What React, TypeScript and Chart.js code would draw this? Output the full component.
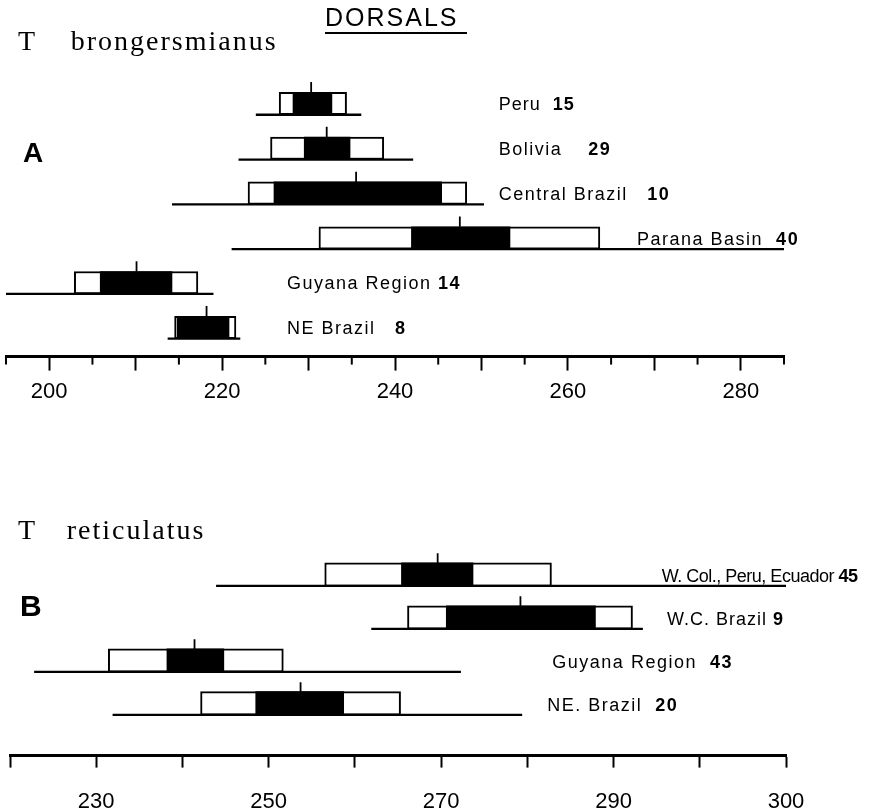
import { useEffect, useRef } from "react";
import { Chart, registerables } from "chart.js";

Chart.register(...registerables);

// ---------- Panel A: T. brongersmianus ----------
const regionsA = ["Peru", "Bolivia", "Central Brazil", "Parana Basin", "Guyana Region", "NE Brazil"];
const countsA = [15, 29, 10, 40, 14, 8];
const rangeMinA = [223.9, 221.9, 214.2, 221.1, 195.0, 213.7];
const rangeMaxA = [236.1, 242.1, 250.3, 287.2, 219.0, 222.1];
const sdLowA = [226.6, 225.6, 223.0, 231.2, 202.9, 214.5];
const sdHighA = [234.4, 238.7, 248.3, 263.7, 217.2, 221.6];
const seLowA = [228.2, 229.5, 226.0, 241.9, 205.9, 214.8];
const seHighA = [232.7, 234.8, 245.4, 253.3, 214.2, 220.8];
const meanA = [230.3, 232.1, 235.5, 247.5, 210.1, 218.2];
const majorTicksA = [200, 210, 220, 230, 240, 250, 260, 270, 280];
const minorTicksA = [195, 205, 215, 225, 235, 245, 255, 265, 275, 285];
const labeledTicksA = [200, 220, 240, 260, 280];
const tickTextA = ["200", "220", "240", "260", "280"];

// ---------- Panel B: T. reticulatus ----------
const regionsB = ["W. Col., Peru, Ecuador", "W.C. Brazil", "Guyana Region", "NE. Brazil"];
const countsB = [45, 9, 43, 20];
const rangeMinB = [243.9, 261.9, 222.8, 231.9];
const rangeMaxB = [310.8, 293.4, 272.3, 279.4];
const sdLowB = [256.5, 266.1, 231.4, 242.1];
const sdHighB = [282.8, 292.2, 251.7, 265.3];
const seLowB = [265.4, 270.6, 238.2, 248.5];
const seHighB = [273.7, 287.9, 244.8, 258.7];
const meanB = [269.6, 279.2, 241.4, 253.7];
const majorTicksB = [220, 230, 240, 250, 260, 270, 280, 290, 300, 310];
const labeledTicksB = [230, 250, 270, 290, 310];
const tickTextB = ["230", "250", "270", "290", "300"];

// label anchors (axis units) and spacing, layout only
const labelStartA = [252, 252, 252, 268, 227.5, 227.5];
const labelStartB = [295.6, 296.2, 282.9, 282.3];
const labelGapA = ["  ", "    ", "   ", "  ", " ", "   "];
const labelGapB = [" ", " ", "  ", "  "];

const SANS = "'Liberation Sans', Arial, sans-serif";

type PanelCfg = {
  regions: string[];
  counts: number[];
  rMin: number[];
  rMax: number[];
  sdLo: number[];
  sdHi: number[];
  seLo: number[];
  seHi: number[];
  mean: number[];
  xMin: number;
  xMax: number;
  yMin: number;
  yMax: number;
  majorTicks: number[];
  minorTicks: number[];
  labeled: number[];
  labeledText: string[];
  labelStart: number[];
  labelGap: string[];
  boxOff: number;
  barPx: number;
  tickLength: number;
  tickPadding: number;
  padding: { left: number; right: number; top: number; bottom: number };
  labelSpacing: string[];
};

function buildChart(canvas: HTMLCanvasElement, c: PanelCfg) {
  const n = c.regions.length;
  const datasets: any[] = [];
  // range lines
  for (let i = 0; i < n; i++) {
    datasets.push({
      type: "line",
      data: [
        { x: c.rMin[i], y: i },
        { x: c.rMax[i], y: i },
      ],
      borderColor: "#000",
      borderWidth: 2.3,
      pointRadius: 0,
      order: 2,
    });
  }
  // white boxes
  datasets.push({
    type: "bar",
    data: c.sdLo.map((lo, i) => ({ x: [lo, c.sdHi[i]], y: i - c.boxOff })),
    backgroundColor: "#fff",
    borderColor: "#000",
    borderWidth: 2,
    borderSkipped: false,
    barThickness: c.barPx,
    grouped: false,
    order: 5,
  });
  // black boxes
  datasets.push({
    type: "bar",
    data: c.seLo.map((lo, i) => ({ x: [lo, c.seHi[i]], y: i - c.boxOff })),
    backgroundColor: "#000",
    borderWidth: 0,
    borderSkipped: false,
    barThickness: c.barPx,
    grouped: false,
    order: 4,
  });
  // mean ticks
  for (let i = 0; i < n; i++) {
    const top = i - 2 * c.boxOff;
    datasets.push({
      type: "line",
      data: [
        { x: c.mean[i], y: top },
        { x: c.mean[i], y: top - 0.23 },
      ],
      borderColor: "#000",
      borderWidth: 1.8,
      pointRadius: 0,
      order: 1,
    });
  }

  const labelPlugin = {
    id: "rowLabels",
    afterDatasetsDraw(chart: any) {
      const { ctx } = chart;
      const xs = chart.scales.x;
      const ys = chart.scales.y;
      ctx.save();
      ctx.fillStyle = "#000";
      ctx.textBaseline = "middle";
      ctx.textAlign = "left";
      for (let i = 0; i < n; i++) {
        const px = xs.getPixelForValue(c.labelStart[i]);
        const py = ys.getPixelForValue(i - 0.21);
        ctx.letterSpacing = c.labelSpacing[i];
        ctx.font = `18px ${SANS}`;
        ctx.fillText(c.regions[i], px, py);
        const w = ctx.measureText(c.regions[i] + c.labelGap[i]).width;
        ctx.font = `bold 18px ${SANS}`;
        ctx.fillText(String(c.counts[i]), px + w, py);
      }
      ctx.restore();
    },
  };

  const minorPlugin = {
    id: "minorTicks",
    afterDraw(chart: any) {
      const { ctx, chartArea } = chart;
      const xs = chart.scales.x;
      ctx.save();
      ctx.strokeStyle = "#000";
      ctx.lineWidth = 2;
      for (const v of c.minorTicks) {
        const px = xs.getPixelForValue(v);
        ctx.beginPath();
        ctx.moveTo(px, chartArea.bottom);
        ctx.lineTo(px, chartArea.bottom + 8);
        ctx.stroke();
      }
      ctx.restore();
    },
  };

  return new Chart(canvas, {
    type: "bar",
    data: { datasets },
    plugins: [labelPlugin, minorPlugin],
    options: {
      animation: false,
      responsive: false,
      indexAxis: "y",
      layout: { padding: c.padding },
      plugins: { legend: { display: false }, tooltip: { enabled: false }, title: { display: false } },
      scales: {
        x: {
          type: "linear",
          position: "bottom",
          min: c.xMin,
          max: c.xMax,
          afterBuildTicks: (scale: any) => {
            scale.ticks = c.majorTicks.map((v) => ({ value: v }));
          },
          afterFit: (scale: any) => {
            scale.paddingLeft = 0;
            scale.paddingRight = 0;
          },
          grid: {
            drawOnChartArea: false,
            drawTicks: true,
            tickLength: c.tickLength,
            tickWidth: 2,
            tickColor: "#000",
          },
          border: { display: true, color: "#000", width: 3 },
          ticks: {
            autoSkip: false,
            maxRotation: 0,
            padding: c.tickPadding,
            color: "#000",
            font: { family: SANS, size: 22 },
            callback: (v: any) => {
              const k = c.labeled.indexOf(Number(v));
              return k >= 0 ? c.labeledText[k] : "";
            },
          },
        },
        y: {
          type: "linear",
          display: false,
          reverse: true,
          min: c.yMin,
          max: c.yMax,
          offset: false,
        },
      },
    } as any,
  });
}

function Panel(props: { cfg: PanelCfg; top: number; height: number }) {
  const ref = useRef<HTMLCanvasElement | null>(null);
  useEffect(() => {
    if (!ref.current) return;
    const chart = buildChart(ref.current, props.cfg);
    return () => chart.destroy();
  }, []);
  return (
    <canvas
      ref={ref}
      width={870}
      height={props.height}
      style={{ position: "absolute", left: 0, top: props.top, width: 870, height: props.height }}
    />
  );
}

const cfgA: PanelCfg = {
  regions: regionsA,
  counts: countsA,
  rMin: rangeMinA,
  rMax: rangeMaxA,
  sdLo: sdLowA,
  sdHi: sdHighA,
  seLo: seLowA,
  seHi: seHighA,
  mean: meanA,
  xMin: 195,
  xMax: 285,
  yMin: -1.2,
  yMax: 5.4,
  majorTicks: majorTicksA,
  minorTicks: minorTicksA,
  labeled: labeledTicksA,
  labeledText: tickTextA,
  labelStart: labelStartA,
  labelGap: labelGapA,
  boxOff: 0.25,
  barPx: 22.4,
  tickLength: 14,
  tickPadding: 8,
  padding: { left: 6, right: 86, top: 61, bottom: 7 },
  labelSpacing: ["1px", "1.5px", "1.5px", "1.5px", "1.5px", "1.5px"],
};

const cfgB: PanelCfg = {
  regions: regionsB,
  counts: countsB,
  rMin: rangeMinB,
  rMax: rangeMaxB,
  sdLo: sdLowB,
  sdHi: sdHighB,
  seLo: seLowB,
  seHi: seHighB,
  mean: meanB,
  xMin: 220,
  xMax: 310,
  yMin: -1,
  yMax: 3.95,
  majorTicks: majorTicksB,
  minorTicks: [],
  labeled: labeledTicksB,
  labeledText: tickTextB,
  labelStart: labelStartB,
  labelGap: labelGapB,
  boxOff: 0.265,
  barPx: 23.5,
  tickLength: 12,
  tickPadding: 21,
  padding: { left: 10, right: 84, top: 123, bottom: 4 },
  labelSpacing: ["-0.5px", "1px", "1.5px", "1.5px"],
};

const serif = "'Liberation Serif', 'Times New Roman', serif";
const abs = (o: any) => ({ position: "absolute" as const, margin: 0, whiteSpace: "pre" as const, color: "#000", ...o });

export default function App() {
  return (
    <div style={{ position: "absolute", left: 0, top: 0, width: 870, height: 811, overflow: "hidden", background: "#fff" }}>
      <Panel cfg={cfgA} top={0} height={420} />
      <Panel cfg={cfgB} top={420} height={420} />
      <div style={abs({ left: 325, top: 5, font: `25px/25px ${SANS}`, letterSpacing: "2px" })}>DORSALS</div>
      <div style={abs({ left: 325, top: 32, width: 142, height: 0, borderTop: "2px solid #000" })} />
      <div style={abs({ left: 18, top: 26.5, font: `28px/28px ${serif}` })}>T</div>
      <div style={abs({ left: 70.7, top: 26.5, font: `28px/28px ${serif}`, letterSpacing: "2px" })}>brongersmianus</div>
      <div style={abs({ left: 23, top: 139.3, font: `bold 28px/28px ${SANS}` })}>A</div>
      <div style={abs({ left: 18, top: 515.8, font: `28px/28px ${serif}` })}>T</div>
      <div style={abs({ left: 66.7, top: 515.8, font: `28px/28px ${serif}`, letterSpacing: "2px" })}>reticulatus</div>
      <div style={abs({ left: 20, top: 591.3, font: `bold 30px/30px ${SANS}` })}>B</div>
    </div>
  );
}
